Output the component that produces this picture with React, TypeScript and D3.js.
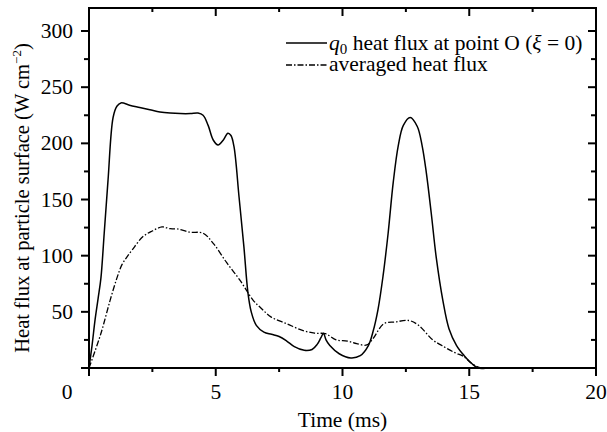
import React from "react";
import * as d3 from "d3";

const q0Time = [0, 0.12, 0.24, 0.36, 0.47, 0.6, 0.75, 0.95, 1.1, 1.26, 1.6, 2.0, 2.4, 2.8, 3.2, 3.6, 4.0, 4.3, 4.5, 4.7, 4.9, 5.09, 5.3, 5.48, 5.6, 5.72, 5.92, 6.11, 6.27, 6.4, 6.6, 6.9, 7.2, 7.5, 7.8, 8.1, 8.49, 8.8, 9.0, 9.15, 9.25, 9.35, 9.5, 9.87, 10.33, 10.7, 11.02, 11.2, 11.4, 11.6, 11.8, 12.0, 12.2, 12.4, 12.67, 12.95, 13.14, 13.3, 13.5, 13.7, 13.96, 14.2, 14.5, 14.8, 15.1, 15.35, 15.8, 16.5, 18, 20];
const q0Flux = [0, 20, 43, 62, 80, 120, 167, 223, 233, 236, 234, 232, 230, 228, 227, 226.5, 226.5, 227, 225, 216, 203, 198.6, 203, 209, 207, 197, 152, 108, 67, 50, 38, 32, 30, 28, 24, 19, 15.7, 16.5, 21, 27, 31, 25, 20, 12.7, 9, 11, 20, 32, 52, 82, 120, 165, 198, 216, 223, 215, 198, 175, 138, 98, 60, 35, 20, 11, 4, 0, 0, 0, 0, 0];

const avgTime = [0, 0.46, 0.83, 1.1, 1.3, 1.5, 1.7, 2.13, 2.5, 2.88, 3.2, 3.47, 3.98, 4.5, 4.9, 5.44, 5.96, 6.47, 6.8, 7.19, 7.8, 8.42, 8.9, 9.33, 9.75, 10.2, 10.56, 10.96, 11.2, 11.63, 12.09, 12.62, 13.0, 13.56, 13.92, 14.4, 14.8, 15.1, 15.47, 15.9, 16.5, 18, 20];
const avgFlux = [0, 30, 60, 80, 92, 99, 105, 117, 122, 125.6, 124, 123.8, 121, 120, 111, 93.5, 78, 60.5, 53, 45.3, 39.4, 33.5, 31, 30.5, 25, 24, 21.6, 20.5, 26, 39.4, 41, 42.3, 38, 25, 20, 14, 10, 4, 0, 0, 0, 0, 0];

const xTickLabels = [5, 10, 15, 20];
const yTickLabels = [50, 100, 150, 200, 250, 300];
const xMinor = [2.5, 7.5, 12.5, 17.5];
const yMinor = [25, 75, 125, 175, 225, 275];

const W = 607, H = 432;
const L = 89, R = 596, T = 8, B = 368;
const FONT = "'Liberation Serif', 'Times New Roman', serif";

export default function App() {
  const x = d3.scaleLinear().domain([0, 20]).range([L, R]);
  const y = d3.scaleLinear().domain([0, 320.5]).range([B, T]);
  const line = d3.line<[number, number]>().x(d => x(d[0])).y(d => y(d[1])).curve(d3.curveCatmullRom.alpha(0.5));
  const q0 = q0Time.map((t, i) => [t, q0Flux[i]] as [number, number]);
  const avg = avgTime.map((t, i) => [t, avgFlux[i]] as [number, number]);
  const fs = 21.5;
  return (
    <svg width={W} height={H} style={{ position: "absolute", left: 0, top: 0, background: "#fff" }} fontFamily={FONT}>
      <rect x={0} y={0} width={W} height={H} fill="#fff" />
      <path d={line(avg) || ""} fill="none" stroke="#000" strokeWidth={1.3} strokeDasharray="6,2,1.5,2" />
      <path d={line(q0) || ""} fill="none" stroke="#000" strokeWidth={1.5} />
      <rect x={L} y={T} width={R - L} height={B - T} fill="none" stroke="#000" strokeWidth={2} />
      {[0, ...xTickLabels].map(v => (
        <g key={"xt" + v}>
          <line x1={x(v)} x2={x(v)} y1={B} y2={B + 8} stroke="#000" strokeWidth={2} />
          <line x1={x(v)} x2={x(v)} y1={T} y2={T + 8} stroke="#000" strokeWidth={2} />
        </g>
      ))}
      {xMinor.map(v => (
        <g key={"xm" + v}>
          <line x1={x(v)} x2={x(v)} y1={B} y2={B + 4} stroke="#000" strokeWidth={2} />
          <line x1={x(v)} x2={x(v)} y1={T} y2={T + 4} stroke="#000" strokeWidth={2} />
        </g>
      ))}
      {[0, ...yTickLabels].map(v => (
        <g key={"yt" + v}>
          <line x1={L - 8} x2={L} y1={y(v)} y2={y(v)} stroke="#000" strokeWidth={2} />
          <line x1={R - 8} x2={R} y1={y(v)} y2={y(v)} stroke="#000" strokeWidth={2} />
        </g>
      ))}
      {yMinor.map(v => (
        <g key={"ym" + v}>
          <line x1={L - 5} x2={L} y1={y(v)} y2={y(v)} stroke="#000" strokeWidth={2} />
          <line x1={R - 5} x2={R} y1={y(v)} y2={y(v)} stroke="#000" strokeWidth={2} />
        </g>
      ))}
      <text x={67} y={399} fontSize={fs} textAnchor="middle">0</text>
      {xTickLabels.map(v => (
        <text key={"xl" + v} x={x(v)} y={399} fontSize={fs} textAnchor="middle">{v}</text>
      ))}
      {yTickLabels.map(v => (
        <text key={"yl" + v} x={73} y={y(v) + 7} fontSize={fs} textAnchor="end">{v}</text>
      ))}
      <text x={(L + R) / 2} y={427} fontSize={fs} textAnchor="middle">Time (ms)</text>
      <text transform={`translate(29,198) rotate(-90)`} fontSize={20.5} textAnchor="middle">
        Heat flux at particle surface (W cm<tspan dy={-8} fontSize={13}>−2</tspan><tspan dy={8}>)</tspan>
      </text>
      <line x1={286} x2={327} y1={43} y2={43} stroke="#000" strokeWidth={1.5} />
      <text x={329} y={50} fontSize={fs}>
        <tspan fontStyle="italic">q</tspan><tspan dy={4} fontSize={15}>0</tspan><tspan dy={-4}> heat flux at point O (</tspan><tspan fontStyle="italic">ξ</tspan><tspan> = 0)</tspan>
      </text>
      <line x1={286} x2={327} y1={65} y2={65} stroke="#000" strokeWidth={1.3} strokeDasharray="6,2,1.5,2" />
      <text x={329} y={71} fontSize={fs}>averaged heat flux</text>
    </svg>
  );
}
